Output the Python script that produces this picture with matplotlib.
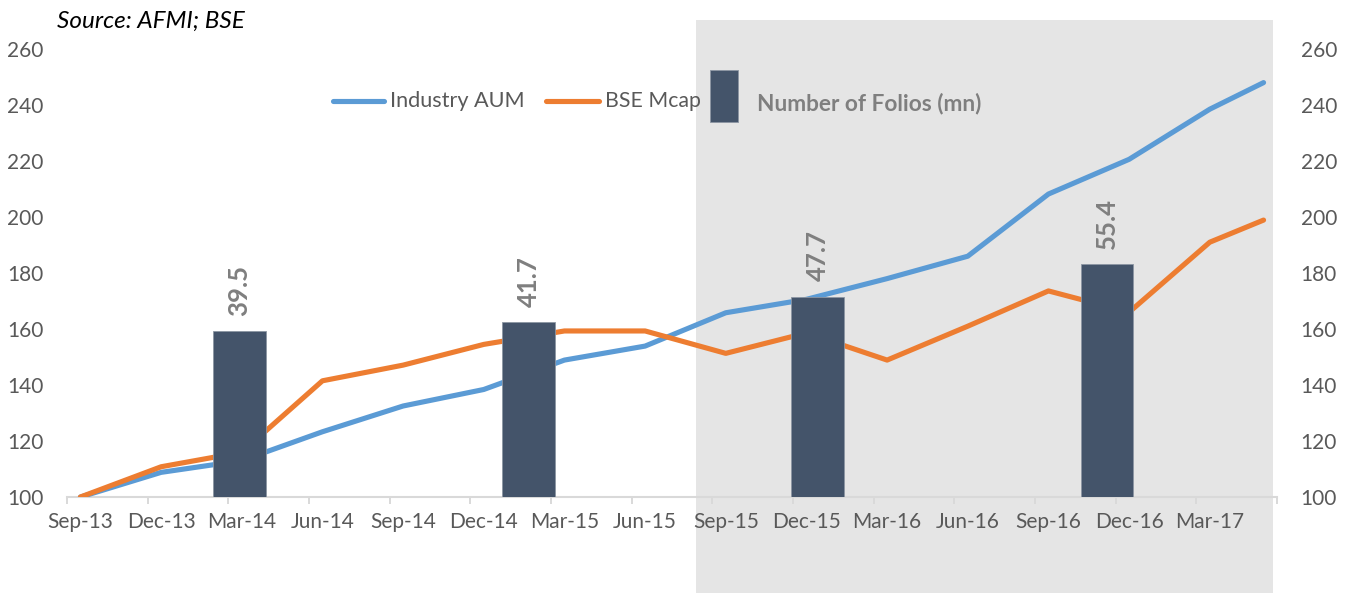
import numpy as np
import matplotlib
matplotlib.use("Agg")
import matplotlib.pyplot as plt
from matplotlib.lines import Line2D
from matplotlib.patches import Rectangle

plt.rcParams['font.family'] = ['Lato', 'DejaVu Sans']

# ---------------- data ----------------
dates = ['2013-09', '2013-12', '2014-03', '2014-06', '2014-09', '2014-12',
         '2015-03', '2015-06', '2015-09', '2015-12', '2016-03', '2016-06',
         '2016-09', '2016-12', '2017-03', '2017-05']
industry_aum = [100, 108.8, 113, 123.3, 132.5, 138.4, 148.9, 153.9,
                165.8, 170.6, 178, 186, 208.2, 220.6, 238.5, 248]
bse_mcap = [100, 110.8, 116, 141.5, 147.1, 154.5, 159.3, 159.3,
            151.3, 158.6, 148.9, 161, 173.6, 166, 191, 198.9]

tick_dates = ['2013-09', '2013-12', '2014-03', '2014-06', '2014-09', '2014-12',
              '2015-03', '2015-06', '2015-09', '2015-12', '2016-03', '2016-06',
              '2016-09', '2016-12', '2017-03']
tick_labels = ['Sep-13', 'Dec-13', 'Mar-14', 'Jun-14', 'Sep-14', 'Dec-14',
               'Mar-15', 'Jun-15', 'Sep-15', 'Dec-15', 'Mar-16', 'Jun-16',
               'Sep-16', 'Dec-16', 'Mar-17']

folio_periods = ['FY14', 'FY15', 'FY16', 'FY17']
folios = [39.5, 41.7, 47.7, 55.4]

y_ticks = [100, 120, 140, 160, 180, 200, 220, 240, 260]

# ---------------- styling ----------------
W, H = 1350, 593
BLUE = '#5B9BD5'
ORANGE = '#ED7D31'
BAR = '#44546A'
TXT = '#595959'
LBL = '#7F7F7F'
AXC = '#D9D9D9'
SHADE = '#E5E5E5'

def fx(px):
    return px / W

def fy(py):
    return 1 - py / H

fig = plt.figure(figsize=(W / 100, H / 100), dpi=100)
fig.patch.set_facecolor('white')

# shaded background block
fig.add_artist(Rectangle((fx(696), 0), fx(1273) - fx(696), fy(20),
                         transform=fig.transFigure, facecolor=SHADE,
                         edgecolor='none', zorder=-10))

pos = [fx(67), fy(497), fx(1277) - fx(67), fy(49) - fy(497)]
ax = fig.add_axes(pos)
ax.set_facecolor('none')

origin = np.datetime64('2013-09', 'M')
x = (np.array(dates, dtype='datetime64[M]') - origin).astype(int)
xt = (np.array(tick_dates, dtype='datetime64[M]') - origin).astype(int)

ax.plot(x, industry_aum, color=BLUE, lw=3.7, solid_capstyle='round',
        solid_joinstyle='round', zorder=3)
ax.plot(x, bse_mcap, color=ORANGE, lw=3.7, solid_capstyle='round',
        solid_joinstyle='round', zorder=3)

ax.set_xlim(-0.5, 44.5)
ax.set_ylim(100, 260)
ax.set_xticks(xt)
ax.set_xticklabels(tick_labels)
ax.set_xticks(np.arange(-0.5, 45, 3), minor=True)
ax.tick_params(axis='x', which='major', length=0, pad=11, labelsize=15,
               labelcolor=TXT)
ax.tick_params(axis='x', which='minor', length=5, width=1.4, color=AXC)
ax.set_yticks(y_ticks)
ax.tick_params(axis='y', length=0, labelsize=15, labelcolor=TXT,
               labelleft=True, labelright=True, pad=17)
for s in ['top', 'left', 'right']:
    ax.spines[s].set_visible(False)
ax.spines['bottom'].set_color(AXC)
ax.spines['bottom'].set_linewidth(1.5)

# bars on their own category axis (drawn above lines)
axb = fig.add_axes(pos)
axb.set_facecolor('none')
xb = np.arange(len(folios))
bars = axb.bar(xb, folios, width=0.183, color=BAR, edgecolor='#8C96A3',
               linewidth=0.6, zorder=4)
axb.set_xlim(-0.5965, 3.588)
axb.set_ylim(0, 106.7)
axb.axis('off')
for xi, v in zip(xb, folios):
    axb.annotate(f'{v:.1f}', (xi, v), xytext=(0, 11), textcoords='offset points',
                 rotation=90, ha='center', va='bottom', fontsize=18.5,
                 fontweight='bold', color=LBL)

# source note
fig.text(fx(57), fy(21), 'Source: AFMI; BSE', fontsize=17.5, style='italic',
         color='black', ha='left', va='center')

# manual legend
ly = fy(101)
fig.add_artist(Line2D([fx(333), fx(384)], [ly, ly], transform=fig.transFigure,
                      color=BLUE, lw=3.7, solid_capstyle='round'))
fig.text(fx(390), ly, 'Industry AUM', fontsize=15.6, color=TXT, ha='left',
         va='center')
fig.add_artist(Line2D([fx(546), fx(599)], [ly, ly], transform=fig.transFigure,
                      color=ORANGE, lw=3.7, solid_capstyle='round'))
fig.text(fx(605), ly, 'BSE Mcap', fontsize=15.3, color=TXT, ha='left',
         va='center')
fig.add_artist(Rectangle((fx(710), fy(122)), fx(738) - fx(710), fy(70) - fy(122),
                         transform=fig.transFigure, facecolor=BAR,
                         edgecolor='#8C96A3', linewidth=0.6))
fig.text(fx(757), fy(104), 'Number of Folios (mn)', fontsize=16.3,
         fontweight='bold', color=LBL, ha='left', va='center')

fig.savefig('out.png', dpi=100)
